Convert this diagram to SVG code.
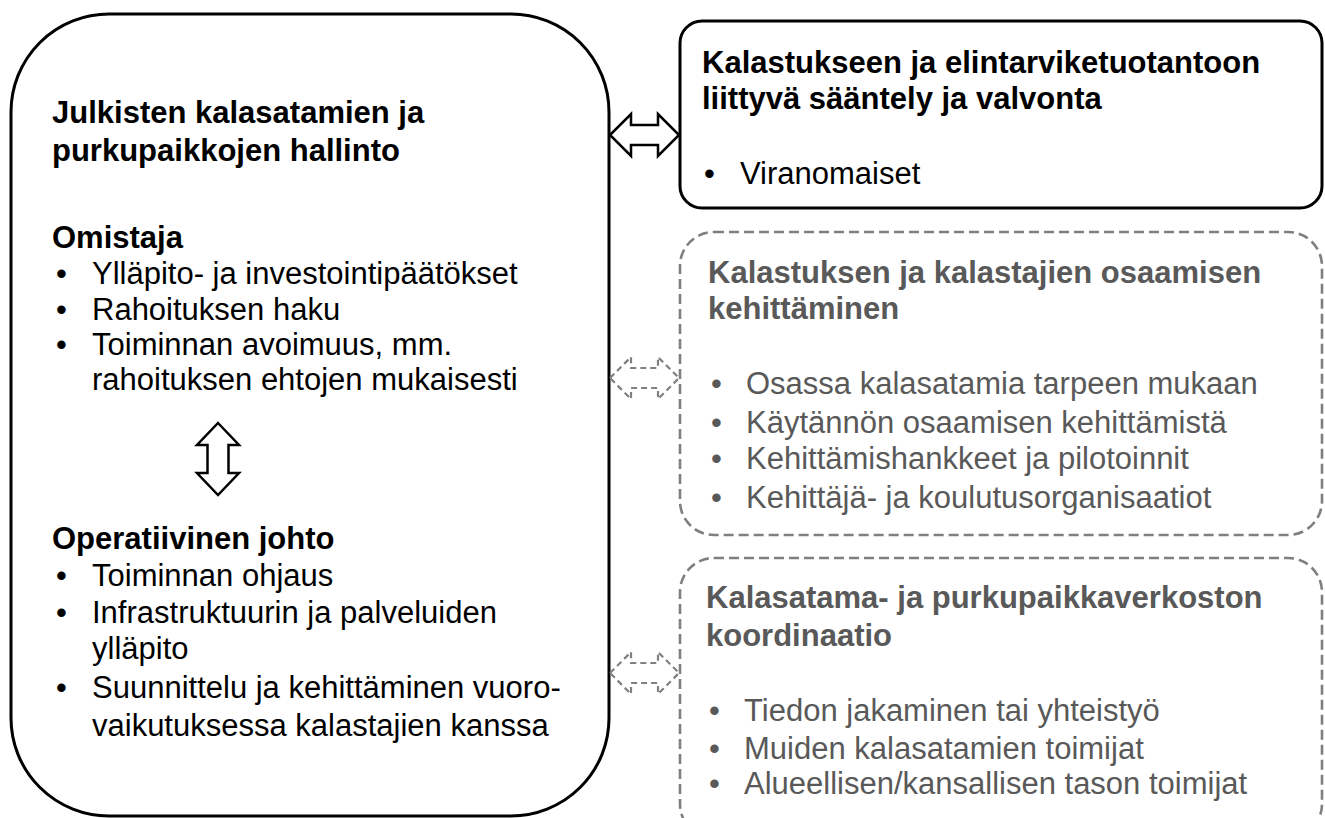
<svg xmlns="http://www.w3.org/2000/svg" width="1325" height="818" viewBox="0 0 1325 818">
<style>
.box{fill:#fff;stroke:#000;stroke-width:3}
.dbox{fill:#fff;stroke:#7f7f7f;stroke-width:2.6;stroke-dasharray:10 5}
.t{font-family:"Liberation Sans",Arial,sans-serif;font-size:31px;fill:#000}
.b{font-weight:bold}
.g{fill:#595959}
.arr{fill:#fff;stroke:#000;stroke-width:2.5;stroke-linejoin:miter}
.darr{fill:#fff;stroke:#808080;stroke-width:2.2;stroke-dasharray:6 4}
</style>
<rect width="1325" height="818" fill="#fff"/>
<g id="hallinto">
<rect class="box" x="11" y="14" width="598" height="802" rx="98" ry="98"/>
<text class="t b" x="52" y="123">Julkisten kalasatamien ja</text>
<text class="t b" x="52" y="161">purkupaikkojen hallinto</text>
<text class="t b" x="52" y="248">Omistaja</text>
<text class="t" x="56" y="284">•</text><text class="t" x="92" y="284">Ylläpito- ja investointipäätökset</text>
<text class="t" x="56" y="320">•</text><text class="t" x="92" y="320">Rahoituksen haku</text>
<text class="t" x="56" y="355">•</text><text class="t" x="92" y="355">Toiminnan avoimuus, mm.</text>
<text class="t" x="92" y="390">rahoituksen ehtojen mukaisesti</text>
<text class="t b" x="52" y="549">Operatiivinen johto</text>
<text class="t" x="56" y="586">•</text><text class="t" x="92" y="586">Toiminnan ohjaus</text>
<text class="t" x="56" y="623">•</text><text class="t" x="92" y="623">Infrastruktuurin ja palveluiden</text>
<text class="t" x="92" y="659">ylläpito</text>
<text class="t" x="56" y="698">•</text><text class="t" x="92" y="698">Suunnittelu ja kehittäminen vuoro-</text>
<text class="t" x="92" y="736">vaikutuksessa kalastajien kanssa</text>
</g>
<g id="saantely">
<rect class="box" x="680" y="21" width="642" height="187" rx="22" ry="22"/>
<text class="t b" x="702" y="73">Kalastukseen ja elintarviketuotantoon</text>
<text class="t b" x="702" y="109">liittyvä sääntely ja valvonta</text>
<text class="t" x="704" y="184">•</text><text class="t" x="740" y="184">Viranomaiset</text>
</g>
<g id="osaaminen">
<rect class="dbox" x="680" y="232" width="642" height="303" rx="34" ry="34"/>
<text class="t b g" x="708" y="283">Kalastuksen ja kalastajien osaamisen</text>
<text class="t b g" x="708" y="319">kehittäminen</text>
<text class="t g" x="711" y="394">•</text><text class="t g" x="746" y="394">Osassa kalasatamia tarpeen mukaan</text>
<text class="t g" x="711" y="433">•</text><text class="t g" x="746" y="433">Käytännön osaamisen kehittämistä</text>
<text class="t g" x="711" y="469">•</text><text class="t g" x="746" y="469">Kehittämishankkeet ja pilotoinnit</text>
<text class="t g" x="711" y="508">•</text><text class="t g" x="746" y="508">Kehittäjä- ja koulutusorganisaatiot</text>
</g>
<g id="koordinaatio">
<rect class="dbox" x="680" y="558" width="642" height="280" rx="34" ry="34"/>
<text class="t b g" x="706" y="608">Kalasatama- ja purkupaikkaverkoston</text>
<text class="t b g" x="706" y="646">koordinaatio</text>
<text class="t g" x="709" y="721">•</text><text class="t g" x="744" y="721">Tiedon jakaminen tai yhteistyö</text>
<text class="t g" x="709" y="759">•</text><text class="t g" x="744" y="759">Muiden kalasatamien toimijat</text>
<text class="t g" x="709" y="794">•</text><text class="t g" x="744" y="794">Alueellisen/kansallisen tason toimijat</text>
</g>
<g id="connectors">
<path class="arr" d="M610,135 L631,114 L631,125 L658,125 L658,114 L679,135 L658,156 L658,145 L631,145 L631,156 Z"/>
<path class="darr" d="M610,378 L631,357 L631,368 L658,368 L658,357 L679,378 L658,399 L658,388 L631,388 L631,399 Z"/>
<path class="darr" d="M610,673 L631,652 L631,663 L658,663 L658,652 L679,673 L658,694 L658,683 L631,683 L631,694 Z"/>
<path class="arr" d="M218,423 L239,445 L228.5,445 L228.5,473 L239,473 L218,495 L197,473 L207.5,473 L207.5,445 L197,445 Z"/>
</g>
</svg>
